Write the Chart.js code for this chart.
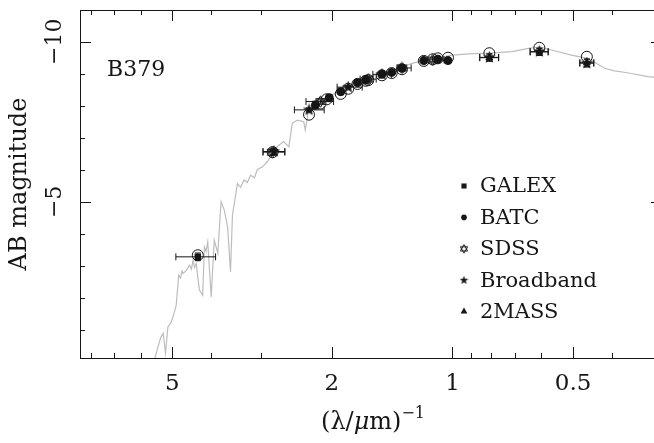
<!DOCTYPE html>
<html>
<head>
<meta charset="utf-8">
<script src="https://cdn.jsdelivr.net/npm/chart.js@4.4.0/dist/chart.umd.min.js"></script>
<style>
  html, body { margin: 0; padding: 0; background: #fff; overflow: hidden; }
  #wrap { width: 654px; height: 443px; overflow: hidden; }
  canvas { display: block; }
</style>
</head>
<body>
<div id="wrap"><canvas id="sed" width="680" height="443"></canvas></div>
<script>
// Axis ticks
const xTickVals = [8, 7, 6, 5, 4, 3, 2, 1, 0.9, 0.8, 0.7, 0.6, 0.5, 0.4];
const xMajorVals = [5, 2, 1, 0.5];
const xTickLabels = ['5', '2', '1', '0.5'];
const yTickVals = [-10, -9, -8, -7, -6, -5, -4, -3, -2, -1];
const yMajorVals = [-10, -5];
const yTickLabels = ['\u221210', '\u22125'];

// Model spectrum (grey line)
const specX = [5.62, 5.53, 5.43, 5.35, 5.27, 5.20, 5.13, 5.05, 4.98, 4.89, 4.82, 4.77, 4.73, 4.70, 4.62, 4.53, 4.48, 4.44, 4.40, 4.36,
               4.28, 4.20, 4.16, 4.12, 4.08, 4.00, 3.93, 3.85, 3.78, 3.71, 3.64, 3.58, 3.54, 3.44, 3.38, 3.31, 3.25, 3.19, 3.12, 3.07,
               2.98, 2.90, 2.84, 2.74, 2.64, 2.56, 2.51, 2.44, 2.35, 2.33, 2.29, 2.18, 2.06, 1.91, 1.80, 1.74, 1.61, 1.44, 1.33, 1.256,
               1.21, 1.176, 1.153, 1.059, 1.0, 0.91, 0.812, 0.71, 0.646, 0.605, 0.566, 0.505, 0.459, 0.438, 0.417, 0.394, 0.366, 0.325, 0.30];
const specMag = [0.3, -0.11, -0.47, -0.75, -0.89, -0.27, -1.09, -1.2, -1.41, -1.77, -2.71, -2.62, -2.84, -2.76, -2.85, -3.02, -2.90, -3.18, -2.95, -3.07,
                 -2.24, -2.08, -3.59, -3.45, -3.75, -2.03, -3.80, -3.39, -5.0, -4.74, -4.22, -2.81, -4.58, -5.57, -5.45, -5.68, -5.60, -5.83, -5.75, -6.0,
                 -6.09, -6.25, -6.41, -6.72, -6.88, -6.72, -7.45, -7.55, -7.50, -7.24, -7.81, -7.97, -8.26, -8.46, -8.65, -8.75, -8.91, -9.06, -9.22, -9.33,
                 -9.38, -9.27, -9.43, -9.53, -9.58, -9.62, -9.64, -9.69, -9.79, -9.84, -9.74, -9.58, -9.48, -9.33, -9.17, -9.09, -9.03, -8.91, -8.86];

// Model magnitudes in each filter (open circles)
const modelX = [4.32, 2.81, 2.28, 2.134, 2.06, 1.90, 1.82, 1.726, 1.646, 1.622, 1.50, 1.418, 1.337, 1.179, 1.12, 1.088, 1.026, 0.809, 0.607, 0.462];
const modelMag = [-3.33, -6.55, -7.72, -8.07, -8.20, -8.37, -8.53, -8.68, -8.78, -8.80, -8.95, -9.02, -9.14, -9.40, -9.45, -9.48, -9.50, -9.64, -9.81, -9.53];

// GALEX
const galexX = [4.32];
const galexMag = [-3.28];
const galexLo = [4.90];
const galexHi = [3.90];
const galexErr = [0.12];

// BATC
const batcX = [2.198, 2.03, 1.90, 1.726, 1.646, 1.50, 1.418, 1.335, 1.179, 1.088, 1.026];
const batcMag = [-8.02, -8.25, -8.44, -8.72, -8.80, -8.98, -9.04, -9.17, -9.41, -9.45, -9.41];
const batcErr = [0.12, 0.1, 0.1, 0.08, 0.06, 0.06, 0.06, 0.06, 0.06, 0.08, 0.08];

// SDSS
const sdssX = [2.816, 2.134, 1.622, 1.337, 1.120];
const sdssMag = [-6.55, -8.13, -8.83, -9.18, -9.43];
const sdssLo = [2.97, 2.32, 1.70, 1.374, 1.186];
const sdssHi = [2.62, 1.98, 1.55, 1.268, 1.049];
const sdssErr = [0.1, 0.05, 0.05, 0.05, 0.06];

// Broadband
const bbX = [2.79, 2.28, 1.82, 1.50, 0.809, 0.607, 0.462];
const bbMag = [-6.57, -7.87, -8.58, -8.98, -9.51, -9.69, -9.33];
const bbLo = [2.97, 2.48, 1.94, 1.58, 0.855, 0.640, 0.481];
const bbHi = [2.62, 2.09, 1.68, 1.42, 0.767, 0.577, 0.444];
const bbErr = [0.1, 0.06, 0.05, 0.05, 0.11, 0.11, 0.12];

// 2MASS
const tmX = [0.809, 0.607, 0.462];
const tmMag = [-9.50, -9.68, -9.34];
const tmLo = [0.855, 0.640, 0.481];
const tmHi = [0.767, 0.577, 0.444];
const tmErr = [0.11, 0.11, 0.12];

const ink = '#161616';
const serif = '"DejaVu Serif", "Liberation Serif", serif';

function toPts(xs, ys) {
    return xs.map((v, i) => ({ x: v, y: ys[i] }));
}

// Filled five-point star drawn into a small canvas, used as pointStyle
function makeStar(size) {
    const c = document.createElement('canvas');
    c.width = c.height = size;
    const g = c.getContext('2d');
    g.fillStyle = ink;
    g.beginPath();
    for (let i = 0; i < 10; i++) {
        const r = i % 2 ? size * 0.21 : size * 0.5;
        const a = -Math.PI / 2 + i * Math.PI / 5;
        g.lineTo(size / 2 + r * Math.cos(a), size / 2 + r * Math.sin(a));
    }
    g.closePath();
    g.fill();
    return c;
}

// Open hexagram (two triangles)
function makeHexagram(size) {
    const c = document.createElement('canvas');
    c.width = c.height = size;
    const g = c.getContext('2d');
    g.strokeStyle = ink;
    g.lineWidth = 1;
    const R = size / 2 - 0.8;
    [-90, 90].forEach(start => {
        g.beginPath();
        for (let i = 0; i < 3; i++) {
            const a = (start + i * 120) * Math.PI / 180;
            g.lineTo(size / 2 + R * Math.cos(a), size / 2 + R * Math.sin(a));
        }
        g.closePath();
        g.stroke();
    });
    return c;
}

const starBig = makeStar(13);
const hexBig = makeHexagram(13);
const starSmall = makeStar(9);
const hexSmall = makeHexagram(10);

const errSeries = [
    { xs: galexX, ys: galexMag, lo: galexLo, hi: galexHi, err: galexErr },
    { xs: batcX, ys: batcMag, lo: null, hi: null, err: batcErr },
    { xs: sdssX, ys: sdssMag, lo: sdssLo, hi: sdssHi, err: sdssErr },
    { xs: bbX, ys: bbMag, lo: bbLo, hi: bbHi, err: bbErr },
    { xs: tmX, ys: tmMag, lo: tmLo, hi: tmHi, err: tmErr }
];

const legendItems = [
    { text: 'GALEX', style: 'rect', radius: 3.6 },
    { text: 'BATC', style: 'circle', radius: 2.8 },
    { text: 'SDSS', style: hexSmall, radius: 4 },
    { text: 'Broadband', style: starSmall, radius: 4 },
    { text: '2MASS', style: 'triangle', radius: 4 }
];

const framePlugin = {
    id: 'frame',
    afterDatasetsDraw(chart) {
        const { ctx, chartArea: a, scales: { x, y } } = chart;
        ctx.save();
        ctx.beginPath();
        ctx.rect(a.left, a.top, a.right - a.left, a.bottom - a.top);
        ctx.clip();
        ctx.strokeStyle = ink;
        ctx.lineWidth = 1;
        errSeries.forEach(s => {
            s.xs.forEach((v, i) => {
                const px = x.getPixelForValue(v);
                const py = y.getPixelForValue(s.ys[i]);
                ctx.beginPath();
                if (s.lo) {
                    const x1 = x.getPixelForValue(s.lo[i]);
                    const x2 = x.getPixelForValue(s.hi[i]);
                    ctx.moveTo(x1, py); ctx.lineTo(x2, py);
                    ctx.moveTo(x1, py - 3.5); ctx.lineTo(x1, py + 3.5);
                    ctx.moveTo(x2, py - 3.5); ctx.lineTo(x2, py + 3.5);
                }
                const y1 = y.getPixelForValue(s.ys[i] - s.err[i]);
                const y2 = y.getPixelForValue(s.ys[i] + s.err[i]);
                ctx.moveTo(px, y1); ctx.lineTo(px, y2);
                ctx.moveTo(px - 3, y1); ctx.lineTo(px + 3, y1);
                ctx.moveTo(px - 3, y2); ctx.lineTo(px + 3, y2);
                ctx.stroke();
            });
        });
        ctx.restore();
    },
    afterDraw(chart) {
        const { ctx, chartArea: a, scales: { x, y } } = chart;
        ctx.save();
        ctx.strokeStyle = ink;
        ctx.fillStyle = ink;
        ctx.lineWidth = 1;

        // Frame
        ctx.strokeRect(a.left + 0.5, a.top + 0.5, a.right - a.left, a.bottom - a.top);

        // Inward ticks on all four sides
        ctx.beginPath();
        xTickVals.forEach(v => {
            const px = Math.round(x.getPixelForValue(v)) + 0.5;
            const len = xMajorVals.includes(v) ? 11 : 5;
            ctx.moveTo(px, a.bottom); ctx.lineTo(px, a.bottom - len);
            ctx.moveTo(px, a.top); ctx.lineTo(px, a.top + len);
        });
        yTickVals.forEach(v => {
            const py = Math.round(y.getPixelForValue(v)) + 0.5;
            const len = yMajorVals.includes(v) ? 11 : 5;
            ctx.moveTo(a.left, py); ctx.lineTo(a.left + len, py);
            ctx.moveTo(a.right, py); ctx.lineTo(a.right - len, py);
        });
        ctx.stroke();

        // Rotated y tick labels
        ctx.font = '22px ' + serif;
        ctx.textAlign = 'center';
        ctx.textBaseline = 'middle';
        yMajorVals.forEach((v, i) => {
            ctx.save();
            ctx.translate(a.left - 25, y.getPixelForValue(v));
            ctx.rotate(-Math.PI / 2);
            ctx.fillText(yTickLabels[i], 0, 0);
            ctx.restore();
        });

        // Object name
        ctx.font = '22px ' + serif;
        ctx.textAlign = 'left';
        ctx.textBaseline = 'alphabetic';
        ctx.fillText('B379', a.left + 27, 76);

        // Legend
        ctx.font = '21px ' + serif;
        ctx.textBaseline = 'middle';
        legendItems.forEach((item, i) => {
            const ly = 186 + i * 31.4;
            Chart.helpers.drawPoint(ctx, { pointStyle: item.style, radius: item.radius, borderWidth: 0, rotation: 0 }, 464, ly);
            ctx.fillText(item.text, 480, ly + 1);
        });

        // x-axis title: (lambda/mu m)^-1
        const baseY = 429;
        const parts = [
            { t: '(\u03bb/', f: '24px ' + serif, dy: 0 },
            { t: '\u03bc', f: 'italic 24px ' + serif, dy: 0 },
            { t: 'm)', f: '24px ' + serif, dy: 0 },
            { t: '\u22121', f: '16px ' + serif, dy: -11 }
        ];
        let total = 0;
        parts.forEach(p => { ctx.font = p.f; p.w = ctx.measureText(p.t).width; total += p.w; });
        let tx = (a.left + a.right) / 2 + 2 - total / 2;
        ctx.textBaseline = 'alphabetic';
        parts.forEach(p => {
            ctx.font = p.f;
            ctx.fillText(p.t, tx, baseY + p.dy);
            tx += p.w;
        });
        ctx.restore();
    }
};

new Chart(document.getElementById('sed'), {
    type: 'scatter',
    data: {
        datasets: [
            { label: 'model', data: toPts(modelX, modelMag), pointStyle: 'circle', pointRadius: 5.5,
              borderColor: ink, backgroundColor: 'rgba(0,0,0,0)', borderWidth: 1, order: 1 },
            { label: 'GALEX', data: toPts(galexX, galexMag), pointStyle: 'rect', pointRadius: 4.5,
              borderColor: ink, backgroundColor: ink, borderWidth: 0, order: 2 },
            { label: 'BATC', data: toPts(batcX, batcMag), pointStyle: 'circle', pointRadius: 4.5,
              borderColor: ink, backgroundColor: ink, borderWidth: 0, order: 3 },
            { label: 'SDSS', data: toPts(sdssX, sdssMag), pointStyle: hexBig, pointRadius: 6,
              borderColor: ink, backgroundColor: ink, order: 4 },
            { label: 'Broadband', data: toPts(bbX, bbMag), pointStyle: starBig, pointRadius: 6,
              borderColor: ink, backgroundColor: ink, order: 5 },
            { label: '2MASS', data: toPts(tmX, tmMag), pointStyle: 'triangle', pointRadius: 4.5,
              borderColor: ink, backgroundColor: ink, borderWidth: 0, order: 6 },
            { label: 'spectrum', data: toPts(specX, specMag), showLine: true, pointRadius: 0,
              borderColor: '#bdbdbd', borderWidth: 1.2, tension: 0, order: 20 }
        ]
    },
    options: {
        responsive: false,
        animation: false,
        devicePixelRatio: 1,
        layout: { padding: { left: 0, right: 18, top: 10, bottom: 0 } },
        plugins: { legend: { display: false }, tooltip: { enabled: false } },
        scales: {
            x: {
                type: 'logarithmic',
                reverse: true,
                min: 0.31,
                max: 8.5,
                grid: { display: false, drawTicks: false },
                border: { display: false },
                afterBuildTicks: s => { s.ticks = xTickVals.map(v => ({ value: v })); },
                afterFit: s => { s.height = 85; },
                ticks: {
                    autoSkip: false,
                    maxRotation: 0,
                    padding: 12,
                    color: ink,
                    font: { family: serif, size: 23 },
                    callback: v => {
                        const k = xMajorVals.indexOf(v);
                        return k >= 0 ? xTickLabels[k] : '';
                    }
                }
            },
            y: {
                type: 'linear',
                reverse: true,
                min: -10.99,
                max: -0.12,
                grid: { display: false, drawTicks: false },
                border: { display: false },
                afterBuildTicks: s => { s.ticks = yTickVals.map(v => ({ value: v })); },
                afterFit: s => { s.width = 80; },
                ticks: { display: false },
                title: {
                    display: true,
                    text: 'AB magnitude',
                    color: ink,
                    font: { family: serif, size: 24 },
                    padding: { top: 5, bottom: 0 }
                }
            }
        }
    },
    plugins: [framePlugin]
});
</script>
</body>
</html>
